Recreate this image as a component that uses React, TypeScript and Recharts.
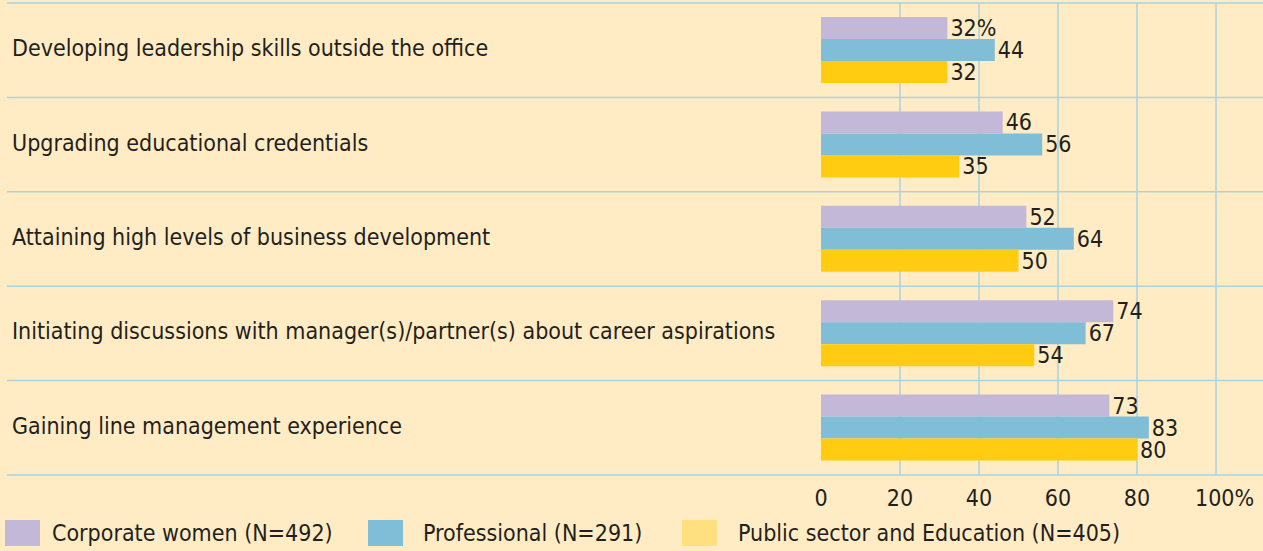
import React from "react";
import { BarChart, Bar, XAxis, YAxis, CartesianGrid, Legend, LabelList } from "recharts";

const categories = [
  "Developing leadership skills outside the office",
  "Upgrading educational credentials",
  "Attaining high levels of business development",
  "Initiating discussions with manager(s)/partner(s) about career aspirations",
  "Gaining line management experience",
];
const corporate = [32, 46, 52, 74, 73];
const professional = [44, 56, 64, 67, 83];
const publicSector = [32, 35, 50, 54, 80];
const xTicks = [0, 20, 40, 60, 80, 100];
const gridTicks = [20, 40, 60, 80, 100];

const seriesNames = [
  "Corporate women (N=492)",
  "Professional (N=291)",
  "Public sector and Education (N=405)",
];

const data = categories.map((name, i) => ({
  name,
  corporate: corporate[i],
  professional: professional[i],
  publicSector: publicSector[i],
}));

const FONT = "'Liberation Sans Narrow', 'DejaVu Sans Condensed', 'Liberation Sans', sans-serif";
const FS = 23;
const BG = "#ffecc4";
const GRID = "#a9d3e0";
const INK = "#231f20";
const COLORS = { corporate: "#c4b8d9", professional: "#80bed8", publicSector: "#ffcc11" };
const LEGEND_SWATCH = ["#c4b8d9", "#80bed8", "#ffe080"];

function CategoryTick(props: any) {
  const { y, payload } = props;
  return (
    <text x={12} y={y + 6} fill={INK} fontSize={FS} fontFamily={FONT} textAnchor="start">
      {payload.value}
    </text>
  );
}

function ValueTick(props: any) {
  const { x, y, payload } = props;
  const v = payload.value;
  if (v === 100) {
    return (
      <text x={x - 21} y={y + 23} fill={INK} fontSize={FS} fontFamily={FONT} textAnchor="start">
        100%
      </text>
    );
  }
  return (
    <text x={x} y={y + 23} fill={INK} fontSize={FS} fontFamily={FONT} textAnchor="middle">
      {v}
    </text>
  );
}

const valueLabel = (showPct: boolean) => (props: any) => {
  const { x, y, width, height, value, index } = props;
  const txt = showPct && index === 0 ? `${value}%` : `${value}`;
  return (
    <text
      x={x + width + 3}
      y={y + height / 2 + 8}
      fill={INK}
      fontSize={FS}
      fontFamily={FONT}
      textAnchor="start"
    >
      {txt}
    </text>
  );
};

function LegendContent() {
  const widths = [363, 314, 420];
  const gaps = [12, 20, 21];
  return (
    <div style={{ display: "flex", alignItems: "center", paddingLeft: 5 }}>
      {seriesNames.map((n, i) => (
        <div key={n} style={{ display: "flex", alignItems: "center", width: widths[i], flexShrink: 0 }}>
          <span
            style={{
              display: "block",
              width: 35,
              height: 26,
              flexShrink: 0,
              background: LEGEND_SWATCH[i],
              marginRight: gaps[i],
            }}
          />
          <span style={{ fontFamily: FONT, fontSize: FS, color: INK, whiteSpace: "nowrap" }}>{n}</span>
        </div>
      ))}
    </div>
  );
}

export default function App() {
  return (
    <div style={{ position: "absolute", left: 0, top: 0, width: 1263, height: 551, background: BG, overflow: "hidden" }}>
      <BarChart
        width={1263}
        height={551}
        data={data}
        layout="vertical"
        margin={{ top: 3, right: 47, left: 0, bottom: 0 }}
        barGap={0}
        barCategoryGap="15%"
      >
        <CartesianGrid
          stroke={GRID}
          strokeWidth={1.5}
          horizontalCoordinatesGenerator={({ offset }: any) =>
            Array.from({ length: categories.length + 1 }, (_, i) => offset.top + (i * offset.height) / categories.length)
          }
          verticalCoordinatesGenerator={({ offset }: any) =>
            gridTicks.map((v) => offset.left + (v / 100) * offset.width)
          }
          horizontal={(p: any) => (
            <line key={p.key} x1={7} x2={1263} y1={p.y1} y2={p.y2} stroke={GRID} strokeWidth={1.5} />
          )}
        />
        <XAxis
          type="number"
          domain={[0, 100]}
          ticks={xTicks}
          axisLine={false}
          tickLine={false}
          tick={<ValueTick />}
          height={40}
          interval={0}
        />
        <YAxis
          type="category"
          dataKey="name"
          width={821}
          axisLine={false}
          tickLine={false}
          tick={<CategoryTick />}
          interval={0}
        />
        <Legend verticalAlign="bottom" height={36} content={<LegendContent />} wrapperStyle={{ bottom: -5, left: 0 }} />
        <Bar dataKey="corporate" fill={COLORS.corporate} barSize={22} isAnimationActive={false}>
          <LabelList dataKey="corporate" content={valueLabel(true)} />
        </Bar>
        <Bar dataKey="professional" fill={COLORS.professional} barSize={22} isAnimationActive={false}>
          <LabelList dataKey="professional" content={valueLabel(false)} />
        </Bar>
        <Bar dataKey="publicSector" fill={COLORS.publicSector} barSize={22} isAnimationActive={false}>
          <LabelList dataKey="publicSector" content={valueLabel(false)} />
        </Bar>
      </BarChart>
    </div>
  );
}
